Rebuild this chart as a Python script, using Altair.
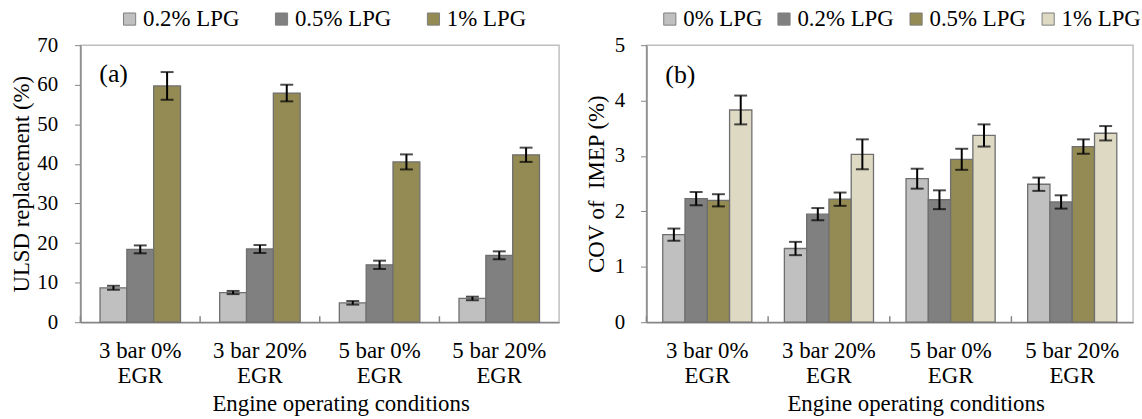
import altair as alt
import pandas as pd

FONT = "Liberation Serif"
AXIS_GRAY = "#868686"

conditions = ["3 bar 0%|EGR", "3 bar 20%|EGR", "5 bar 0%|EGR", "5 bar 20%|EGR"]

# Panel (a): ULSD replacement (%)
a_series = ["0.2% LPG", "0.5% LPG", "1% LPG"]
a_colors = ["#C0C0C0", "#808080", "#948A54"]
a_02 = [8.7, 7.5, 4.9, 6.0]
a_02_err = [0.5, 0.4, 0.45, 0.45]
a_05 = [18.4, 18.5, 14.5, 16.9]
a_05_err = [1.0, 1.0, 1.05, 1.0]
a_1 = [59.7, 57.9, 40.5, 42.3]
a_1_err = [3.5, 2.1, 1.9, 1.8]

# Panel (b): COV of IMEP (%)
b_series = ["0% LPG", "0.2% LPG", "0.5% LPG", "1% LPG"]
b_colors = ["#C0C0C0", "#808080", "#948A54", "#DDD9C3"]
b_0 = [1.58, 1.33, 2.59, 2.49]
b_0_err = [0.11, 0.12, 0.18, 0.12]
b_02 = [2.23, 1.95, 2.21, 2.17]
b_02_err = [0.12, 0.11, 0.17, 0.12]
b_05 = [2.20, 2.22, 2.94, 3.17]
b_05_err = [0.11, 0.12, 0.19, 0.13]
b_1 = [3.83, 3.03, 3.37, 3.41]
b_1_err = [0.26, 0.27, 0.20, 0.13]


def make_df(series, values, errors):
    rows = []
    for s, vals, errs in zip(series, values, errors):
        for c, v, e in zip(conditions, vals, errs):
            rows.append({"cond": c, "series": s, "value": v, "lo": v - e, "hi": v + e})
    return pd.DataFrame(rows)


df_a = make_df(a_series, [a_02, a_05, a_1], [a_02_err, a_05_err, a_1_err])
df_b = make_df(b_series, [b_0, b_02, b_05, b_1], [b_0_err, b_02_err, b_05_err, b_1_err])


def panel(df, series, colors, ymax, ystep, ytitle, ytitle_pad, ylabel_pad,
          tag, tag_y, legend_x, col_pad, width, height, xtitle_x):
    x_axis = alt.Axis(
        title="Engine operating conditions",
        labelExpr="split(datum.label, '|')",
        labelAngle=0,
        ticks=False,
        labelPadding=18,
        labelFont=FONT, labelFontSize=23, labelColor="black", labelLineHeight=25,
        titleFont=FONT, titleFontSize=23, titleFontWeight="normal", titleColor="black",
        titlePadding=5, titleX=xtitle_x,
        domainColor=AXIS_GRAY, domainWidth=1.5,
    )
    x_scale = alt.Scale(paddingInner=0, paddingOuter=0)
    xenc = alt.X("cond:N", sort=conditions, scale=x_scale, axis=x_axis)
    xoff = alt.XOffset("series:N", sort=series,
                       scale=alt.Scale(paddingInner=0, paddingOuter=0.73))
    y_axis = alt.Axis(
        title=ytitle,
        values=list(range(0, ymax + 1, ystep)),
        grid=False,
        tickColor=AXIS_GRAY, tickSize=6, domainColor=AXIS_GRAY, domainWidth=1.5,
        labelPadding=ylabel_pad,
        labelFont=FONT, labelFontSize=21, labelColor="black",
        titleFont=FONT, titleFontSize=23, titleFontWeight="normal", titleColor="black",
        titlePadding=ytitle_pad,
    )
    y_scale = alt.Scale(domain=[0, ymax], nice=False)

    bars = alt.Chart(df).mark_bar(stroke="#6f6f6f", strokeWidth=1.3).encode(
        x=xenc,
        xOffset=xoff,
        y=alt.Y("value:Q", scale=y_scale, axis=y_axis),
        color=alt.Color(
            "series:N", sort=series,
            scale=alt.Scale(domain=series, range=colors),
            legend=alt.Legend(
                title=None, orient="none", legendX=legend_x, legendY=-38,
                direction="horizontal", symbolType="square", symbolSize=150,
                symbolStrokeColor="#7f7f7f", symbolStrokeWidth=1,
                labelFont=FONT, labelFontSize=23, labelColor="black",
                labelOffset=2, columnPadding=col_pad,
            ),
        ),
    )
    err = alt.Chart(df).mark_rule(color="black", strokeWidth=2).encode(
        x=xenc, xOffset=xoff,
        y=alt.Y("lo:Q", scale=y_scale, axis=y_axis), y2="hi:Q",
    )
    cap_lo = alt.Chart(df).mark_tick(color="black", thickness=2, size=13).encode(
        x=xenc, xOffset=xoff, y=alt.Y("lo:Q", scale=y_scale, axis=y_axis),
    )
    cap_hi = alt.Chart(df).mark_tick(color="black", thickness=2, size=13).encode(
        x=xenc, xOffset=xoff, y=alt.Y("hi:Q", scale=y_scale, axis=y_axis),
    )
    sep = alt.Chart(pd.DataFrame({"cond": conditions})).mark_rule(
        color=AXIS_GRAY, strokeWidth=1.5
    ).encode(
        x=alt.X("cond:N", sort=conditions, scale=x_scale, axis=x_axis, bandPosition=0),
        y=alt.value(height), y2=alt.value(height - 6),
    )
    label = alt.Chart(pd.DataFrame({"t": [tag], "v": [tag_y]})).mark_text(
        font=FONT, fontSize=26, align="left", baseline="middle", color="black"
    ).encode(
        text="t:N",
        x=alt.value(19),
        y=alt.Y("v:Q", scale=y_scale, axis=y_axis),
    )
    return alt.layer(bars, err, cap_lo, cap_hi, sep, label).properties(
        width=width, height=height
    )


pa = panel(df_a, a_series, a_colors, 70, 10, "ULSD replacement (%)", 3, 17,
           "(a)", 62.6, 38, 30, 482, 279, 262)
pb = panel(df_b, b_series, b_colors, 5, 1, "COV of\u00a0 IMEP (%)", 6, 16,
           "(b)", 4.46, 12, 10, 490, 279, 271)

chart = alt.hconcat(pa, pb, spacing=24).resolve_scale(
    color="independent", y="independent", x="independent", xOffset="independent"
).configure(font=FONT).configure_axis(
    labelFont=FONT, titleFont=FONT
).configure_legend(labelFont=FONT).configure_text(font=FONT).configure_view(
    stroke="#BFBFBF", strokeWidth=1.5
).properties(
    padding={"left": 10, "top": 5, "right": 0, "bottom": 0},
    background="white",
)

chart.save("out.html", embed_options={"renderer": "svg", "actions": False})
